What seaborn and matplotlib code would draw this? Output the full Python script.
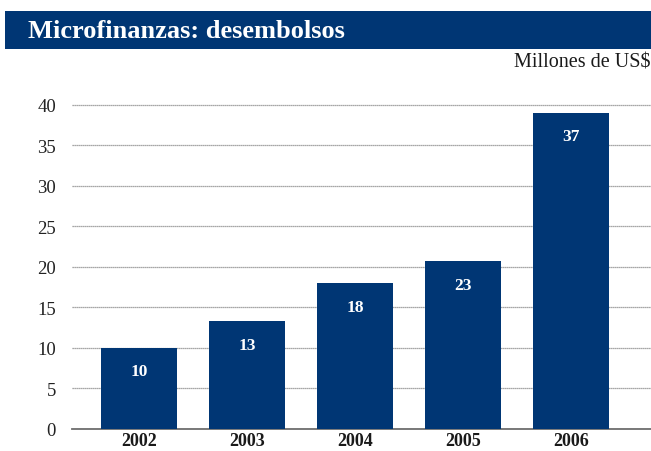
import matplotlib
matplotlib.use("Agg")
import matplotlib.pyplot as plt
import seaborn as sns
import pandas as pd
from matplotlib.patches import Rectangle

# datos
anios = ["2002", "2003", "2004", "2005", "2006"]
desembolsos = [10.0, 13.3, 18.0, 20.7, 39.0]   # altura de las barras
etiquetas = ["10", "13", "18", "23", "37"]      # valores impresos

azul = "#003674"

sns.set_theme(style="white")
plt.rcParams["font.family"] = ["Liberation Serif", "DejaVu Serif"]

df = pd.DataFrame({"anio": anios, "valor": desembolsos})

fig = plt.figure(figsize=(6.51, 4.52), dpi=100)
ax = fig.add_axes([0.1106, 0.0487, 0.8894, 0.7268])

sns.barplot(data=df, x="anio", y="valor", color=azul, saturation=1,
            width=0.70, linewidth=0, ax=ax, zorder=3)

# etiquetas blancas dentro de las barras
for i, (v, t) in enumerate(zip(desembolsos, etiquetas)):
    ax.annotate(t, (i, v), xytext=(0, -17), textcoords="offset points",
                ha="center", va="center", color="white",
                fontsize=12.5, fontweight="bold", zorder=4)

ax.set_ylim(0, 40.5)
ax.set_xlim(-0.62, 4.74)
ax.set_yticks(range(0, 41, 5))
ax.yaxis.grid(True, color="#8a8a8a", linestyle=(0, (1, 0.6)), linewidth=0.9)
ax.set_axisbelow(True)
for s in ["top", "right", "left"]:
    ax.spines[s].set_visible(False)
ax.spines["bottom"].set_color("#6e6e6e")
ax.spines["bottom"].set_linewidth(1.3)
ax.tick_params(axis="y", length=0, pad=11.5, labelsize=13.5, labelcolor="#222222")
ax.tick_params(axis="x", length=0, pad=2, labelsize=13, labelcolor="#1a1a1a")
for lbl in ax.get_xticklabels():
    lbl.set_fontweight("bold")
ax.set_xlabel("")
ax.set_ylabel("")

# banda del titulo
fig.patches.append(Rectangle((5 / 651, 1 - 50 / 452), 646 / 651, 38 / 452,
                             transform=fig.transFigure, facecolor=azul,
                             edgecolor="none", zorder=0))
fig.text(28 / 651, 1 - 31 / 452, "Microfinanzas: desembolsos", color="white",
         fontsize=19, fontweight="bold", va="center", ha="left")
fig.text(650 / 651, 1 - 63 / 452, "Millones de US$", color="#1a1a1a",
         fontsize=14.5, va="center", ha="right")

fig.savefig("out.png", dpi=100)
